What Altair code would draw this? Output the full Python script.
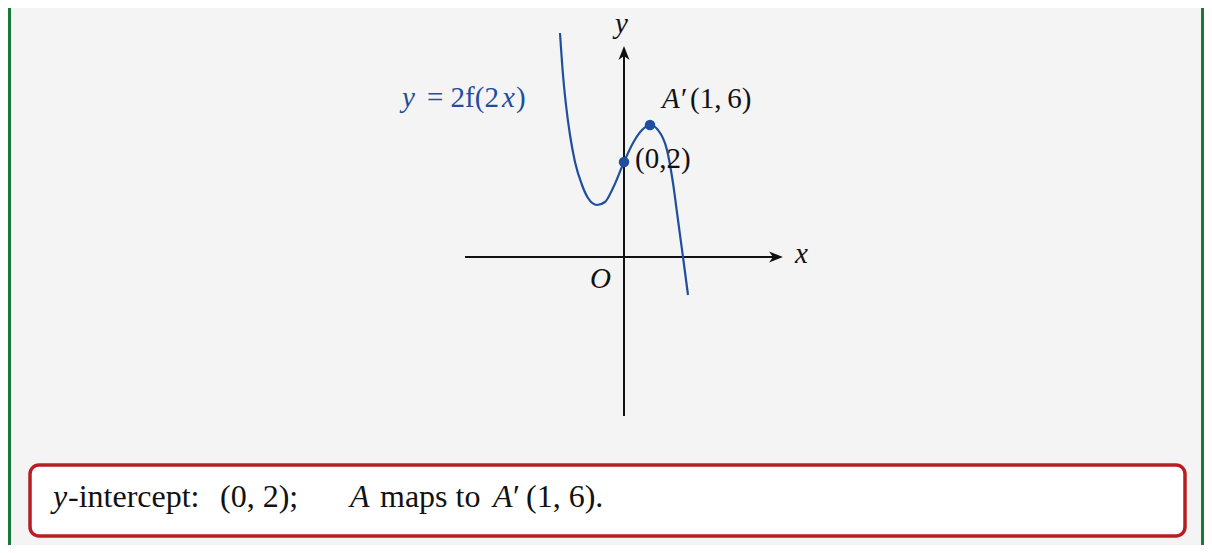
import altair as alt
import pandas as pd

# ---- data (diagram units: pixels right / up from the origin O) ----
curve_x = [-64, -61, -58, -54, -49, -42, -36, -27, -19, -11, 0, 9, 18, 26, 34, 43, 49, 54, 59, 64]
curve_y = [224, 182, 152, 122, 95, 72, 59, 52, 55, 69, 95, 114, 127, 132, 127, 107, 74, 37, 0, -38]

point_x = [0, 26]
point_y = [95, 132]

xaxis_x = [-159, 152]
yaxis_y = [-159, 204]

# text pieces: text, x, y(baseline), italic, colour, size
BLUE = "#1f4e9e"
BLACK = "#111111"
labels = [
    ("y", -222, 150, True, BLUE, 29),
    ("= 2f(2", -197, 150, False, BLUE, 29),
    ("x", -122, 150, True, BLUE, 29),
    (")", -108, 150, False, BLUE, 29),
    ("A", 38, 149, True, BLACK, 29),
    ("\u2032", 57, 149, False, BLACK, 29),
    ("(1,\u20096)", 66, 149, False, BLACK, 29),
    ("(0,2)", 11, 89, False, BLACK, 29),
    ("x", 171, -6, True, BLACK, 29),
    ("y", -9, 224, True, BLACK, 29),
    ("O", -34, -31, True, BLACK, 29),
    ("y", -571, -250, True, BLACK, 32),
    ("-intercept:", -556, -250, False, BLACK, 32),
    ("(0, 2);", -404, -250, False, BLACK, 32),
    ("A", -274, -250, True, BLACK, 32),
    ("maps to", -244, -250, False, BLACK, 32),
    ("A", -131, -250, True, BLACK, 32),
    ("\u2032", -111, -250, False, BLACK, 32),
    ("(1, 6).", -98, -250, False, BLACK, 32),
]

box = {"x": [-594], "x2": [561], "y": [-208], "y2": [-279]}
borders = {"x": [-614.5, 578.5], "y": [249, 249], "y2": [-288, -288]}

# ---- scales ----
xs = alt.Scale(domain=[-616, 580], nice=False, zero=False)
ys = alt.Scale(domain=[-288, 249], nice=False, zero=False)


def X(f="x"):
    return alt.X(f"{f}:Q", scale=xs, axis=None)


def Y(f="y"):
    return alt.Y(f"{f}:Q", scale=ys, axis=None)


border_layer = alt.Chart(pd.DataFrame(borders)).mark_rule(
    color="#17793b", strokeWidth=3
).encode(x=X(), y=Y(), y2="y2:Q")

box_layer = alt.Chart(pd.DataFrame(box)).mark_rect(
    fill="white", stroke="#b51f24", strokeWidth=3.5, cornerRadius=9
).encode(x=X(), x2="x2:Q", y=Y(), y2="y2:Q")

xaxis_layer = alt.Chart(pd.DataFrame({"x": xaxis_x, "y": [0, 0]})).mark_line(
    color=BLACK, strokeWidth=2
).encode(x=X(), y=Y())

yaxis_layer = alt.Chart(pd.DataFrame({"x": [0, 0], "y": yaxis_y})).mark_line(
    color=BLACK, strokeWidth=2
).encode(x=X(), y=Y(), order="y:Q")

arrow_r = alt.Chart(pd.DataFrame({"x": [xaxis_x[1]], "y": [0]})).mark_point(
    shape="M 1 0 L -1 -0.8 L -0.45 0 L -1 0.8 Z", size=190, filled=True,
    color=BLACK, opacity=1
).encode(x=X(), y=Y())

arrow_u = alt.Chart(pd.DataFrame({"x": [0], "y": [yaxis_y[1]]})).mark_point(
    shape="M 0 -1 L -0.8 1 L 0 0.45 L 0.8 1 Z", size=190, filled=True,
    color=BLACK, opacity=1
).encode(x=X(), y=Y())

curve_layer = alt.Chart(pd.DataFrame({"x": curve_x, "y": curve_y})).mark_line(
    color=BLUE, strokeWidth=2.2, interpolate="monotone"
).encode(x=X(), y=Y(), order="x:Q")

points_layer = alt.Chart(pd.DataFrame({"x": point_x, "y": point_y})).mark_circle(
    color=BLUE, size=110, opacity=1
).encode(x=X(), y=Y())

lab_df = pd.DataFrame(labels, columns=["t", "x", "y", "it", "col", "size"])
text_layers = []
for it in (True, False):
    for sz in (29, 32):
        d = lab_df[(lab_df["it"] == it) & (lab_df["size"] == sz)]
        if len(d) == 0:
            continue
        text_layers.append(
            alt.Chart(d).mark_text(
                align="left", baseline="alphabetic", font="Liberation Serif",
                fontSize=sz, fontStyle="italic" if it else "normal"
            ).encode(x=X(), y=Y(), text="t:N",
                     color=alt.Color("col:N", scale=None))
        )

chart = alt.layer(
    border_layer, box_layer, xaxis_layer, yaxis_layer, arrow_r, arrow_u,
    curve_layer, points_layer, *text_layers
).properties(
    width=1196, height=537, background="#f4f4f4",
    autosize=alt.AutoSizeParams(type="none"), padding=0
).configure_view(stroke=None)

chart.save("out.html", embed_options={"renderer": "svg", "actions": False})
